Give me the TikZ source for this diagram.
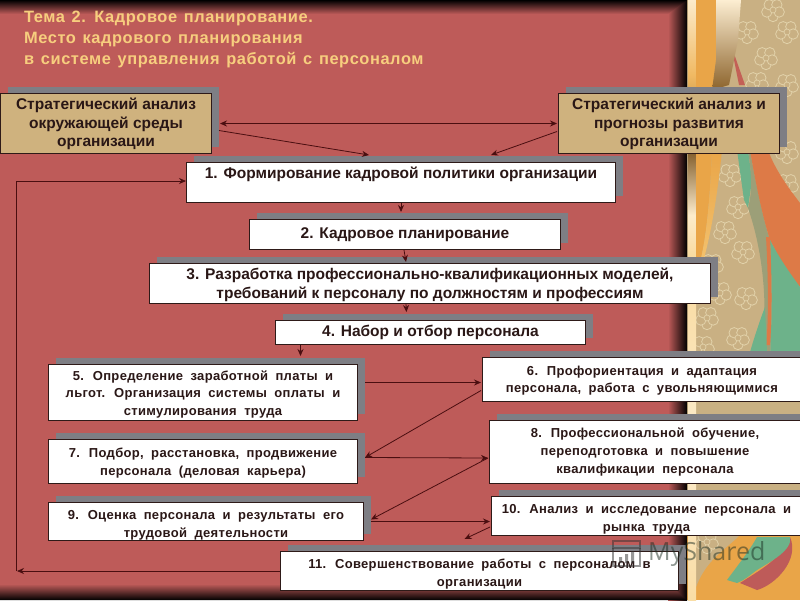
\documentclass[tikz,border=0pt]{standalone}
\usepackage{fontspec}
\setmainfont{Liberation Sans}
\newfontfamily\bigf{Liberation Sans}
\newfontfamily\smallf[LetterSpace=2.5,WordSpace=1.9]{Liberation Sans}
\newfontfamily\titlef[LetterSpace=3.5,WordSpace=1.3]{Liberation Sans}
\newfontfamily\markf{Open Sans}
\usetikzlibrary{arrows.meta,shadows}
\definecolor{panel}{HTML}{BE5B59}
\definecolor{beige}{HTML}{C9B083}
\definecolor{tanbox}{HTML}{CFB27E}
\definecolor{ink}{HTML}{2A1716}
\definecolor{edge}{HTML}{2E1A18}
\definecolor{shad}{HTML}{7E7E84}
\definecolor{wire}{HTML}{4A0E10}
\definecolor{titlec}{HTML}{F7CE7E}
\definecolor{orng}{HTML}{E9A548}
\definecolor{rust}{HTML}{DD7A47}
\definecolor{teal}{HTML}{6DB28A}
\definecolor{petal}{HTML}{E2D2AA}
\newcommand{\dn}[1]{\rule{0pt}{#1pt}}
\tikzset{
  box/.style 2 args={draw=edge,line width=1pt,fill=white,text=ink,anchor=north west,
    inner sep=0pt,align=center,minimum width=#1,minimum height=#2,
    general shadow={shadow xshift=7pt,shadow yshift=7pt,fill=shad,draw=none}},
  bigbox/.style 2 args={box={#1}{#2},font=\bigf\bfseries\fontsize{15.5}{18.6}\selectfont},
  smallbox/.style 2 args={box={#1}{#2},font=\smallf\bfseries\fontsize{13}{17.8}\selectfont},
  link/.style={draw=wire,line width=0.8pt,-{Stealth[length=7pt,width=6pt]}},
  dlink/.style={draw=wire,line width=0.8pt,{Stealth[length=7pt,width=6pt]}-{Stealth[length=7pt,width=6pt]}},
  flower/.pic={\foreach \a in {90,162,234,306,18}{\draw[petal,line width=0.8pt,fill=beige] (\a:6.5) circle (5.2);}
     \draw[petal,line width=0.7pt,fill=beige] (0,0) circle (3);}
}
\begin{document}
\begin{tikzpicture}[x=1pt,y=-1pt]
\path[use as bounding box,clip] (0,0) rectangle (800,600);
% --- right-hand decoration
\fill[beige] (687,0) rectangle (800,600);
\foreach \p in {(747,32),(773,10),(787,32),(766,58),(787,85),(757,83),(787,152),(730,175),(787,185),(738,207),(725,232),(743,252),(712,265),(746,298),(720,293),(707,318),(738,338),(703,347)}
  \pic at \p {flower};
% rust/red ribbon
\fill[panel!85!rust] (731,45) -- (739,85) -- (745,85) -- cycle;
\fill[teal] (737,150) -- (748,150) -- (752,180) -- (748,208) -- (744,200) -- cycle;
\fill[beige!70!teal!90!black] (748,150) -- (750,150) .. controls (757,190) and (765,225) .. (770,240) .. controls (772,280) and (772,320) .. (770,360) -- (760,360) .. controls (768,320) and (766,260) .. (748,208) .. controls (753,190) and (751,170) .. cycle;
\fill[rust] (750,150) -- (768,150) .. controls (775,170) and (790,190) .. (800,203) -- (800,287) .. controls (785,270) and (775,250) .. (770,240) .. controls (762,215) and (755,180) .. cycle;
\fill[teal] (770,240) .. controls (780,260) and (795,280) .. (800,287) -- (800,360) -- (770,360) .. controls (772,320) and (772,280) .. cycle;
\fill[rust] (766,237) -- (770,237) .. controls (772,280) and (772,320) .. (770,345) -- (766,345) .. controls (769,320) and (768,270) .. cycle;
\fill[teal] (750,352) .. controls (755,335) and (760,320) .. (765,307) -- (767,352) -- cycle;
% lower right
\fill[orng] (687,535) rectangle (800,600);
\fill[beige] (695,535) -- (740,535) .. controls (725,550) and (705,560) .. (695,590) -- cycle;
\pic at (707,542) {flower};
\fill[panel] (790,537) .. controls (800,560) and (775,585) .. (757,590) -- (740,583) .. controls (760,570) and (780,560) .. cycle;
\fill[teal] (757,537) -- (790,537) .. controls (793,550) and (770,562) .. (757,570) .. controls (750,575) and (745,580) .. (737,583) -- (727,580) .. controls (738,565) and (750,550) .. cycle;
% gold stripes
\shade[top color=titlec!70!white,bottom color=titlec!70!white,middle color=titlec!40!white] (688,290) rectangle (696,600);
\shade[top color=titlec!40!white,bottom color=black!35!orng,middle color=titlec!50!orng] (688,0) rectangle (696,150);
\shade[top color=black!45!orng,bottom color=titlec!40!white] (688,150) rectangle (696,215);
\shade[top color=titlec!40!white,bottom color=titlec] (688,215) rectangle (696,290);
\fill[orng] (696,0) -- (716,0) -- (716,85) -- (712,150) .. controls (710,200) and (706,240) .. (700,262) -- (696,262) -- cycle;
\shade[top color=titlec!35!white,bottom color=black!40!orng] (716,0) -- (741,0) -- (738,40) -- (729,85) -- (712,90) -- (716,60) -- cycle;
\shade[top color=orng,bottom color=titlec!70!orng] (712,150) -- (722,150) .. controls (718,190) and (712,230) .. (703,262) -- (700,262) .. controls (706,240) and (710,200) .. cycle;
% --- panel
\fill[panel] (0,0) rectangle (687,600);
\shade[left color=panel,right color=black] (668,0) rectangle (687,600);
\shade[top color=black,bottom color=panel] (0,0) -- (687,0) -- (668,14) -- (0,14) -- cycle;
\shade[top color=panel,bottom color=black] (0,584) -- (668,584) -- (687,600) -- (0,600) -- cycle;
% --- title
\node[anchor=north west,inner sep=0pt,align=left,text=titlec,
      font=\titlef\bfseries\fontsize{16.4}{21}\selectfont] (title) at (24,11)
  {Тема 2. Кадровое планирование.\\Место кадрового планирования\\в системе управления работой с персоналом};
% --- boxes
\node[bigbox={211}{60},fill=tanbox] (na) at (0,93) {\dn{13}Стратегический анализ\\окружающей среды\\организации};
\node[bigbox={221}{60},fill=tanbox] (nb) at (558,93) {\dn{13}Стратегический анализ и\\прогнозы развития\\организации};
\node[bigbox={429}{40}] (n1) at (186,162) {1. Формирование кадровой политики организации\\\mbox{}};
\node[bigbox={311}{30}] (n2) at (249,219) {2. Кадровое планирование\\[-16pt]\mbox{}};
\node[bigbox={561}{40}] (n3) at (149,263) {\dn{14}3. Разработка профессионально-квалификационных моделей,\\требований к персоналу по должностям и профессиям};
\node[bigbox={310}{24}] (n4) at (275,320) {4. Набор и отбор персонала};
\node[smallbox={309}{56}] (n5) at (48,364) {\dn{13.5}5. Определение заработной платы и\\льгот. Организация системы оплаты и\\стимулирования труда};
\node[smallbox={309}{44}] (n7) at (48,439) {\dn{12.5}7. Подбор, расстановка, продвижение\\персонала (деловая карьера)};
\node[smallbox={315}{38}] (n9) at (48,502) {\dn{17}9. Оценка персонала и результаты его\\трудовой деятельности};
\node[smallbox={398}{39}] (n11) at (280,551) {\dn{15}11. Совершенствование работы с персоналом в\\организации};
\node[smallbox={319}{44}] (n6) at (482,357) {\dn{11.5}6. Профориентация и адаптация\\персонала, работа с увольняющимися};
\node[smallbox={311}{63}] (n8) at (489,420) {8. Профессиональной обучение,\\переподготовка и повышение\\квалификации персонала};
\node[smallbox={310}{39}] (n10) at (491,496) {\dn{15}10. Анализ и исследование персонала и\\рынка труда};
% --- connectors
\coordinate (corner) at (16,181);
\draw[dlink] ([shift={(8,0)}]na.east) -- ([shift={(-1,0)}]nb.west);
\draw[link] ([shift={(7,7)}]na.east) -- ([shift={(-32,-7)}]n1.north);
\draw[link] ([shift={(-1,8)}]nb.west) -- ([shift={(90,-7)}]n1.north);
\draw[link] (n1.south) -- ([shift={(-4,-7)}]n2.north);
\draw[link] ([shift={(-1,0)}]n2.south) -- ([shift={(-24,-1)}]n3.north);
\draw[link] ([shift={(-24,0)}]n3.south) -- ([shift={(-24,-8)}]n4.north);
\draw[link] ([shift={(-130,0)}]n4.south) -- ([shift={(97.5,-8)}]n5.north);
\draw[link] ([shift={(7,-10)}]n5.east) -- ([shift={(-1,3)}]n6.west);
\draw[link] ([shift={(-1,11)}]n6.west) -- ([shift={(7,-4)}]n7.east);
\draw[link] ([shift={(7,-4)}]n7.east) -- ([shift={(-1,6)}]n8.west);
\draw[link] ([shift={(-1,6)}]n8.west) -- ([shift={(7,-2)}]n9.east);
\draw[link] ([shift={(7,0)}]n9.east) -- ([shift={(-1,5.5)}]n10.west);
\draw[link] ([shift={(-1,11)}]n10.west) -- ([shift={(-15,-12)}]n11.north);
\draw[link] (n11.west) -- ([shift={(1,0)}]corner |- n11.west);
\draw[link] (corner |- n11.west) -- (corner) -- (n1.west |- corner);
% --- watermark
\begin{scope}[opacity=0.5]
\node[anchor=west,inner sep=0pt,text=black!75!teal,font=\markf\fontsize{25}{25}\selectfont] (mark) at (648,554) {MyShared};
\draw[black!80,line width=1.6pt] (613,548) -- (613,541) -- (640,541) -- (640,548) -- cycle;
\draw[black!80,line width=1.6pt] (613,548) -- (613,566) -- (640,566) -- (640,548);
\fill[black!80] (619,557) rectangle (622,563) (625,554) rectangle (628,563) (631,551) rectangle (634,563);
\end{scope}
\end{tikzpicture}
\end{document}
